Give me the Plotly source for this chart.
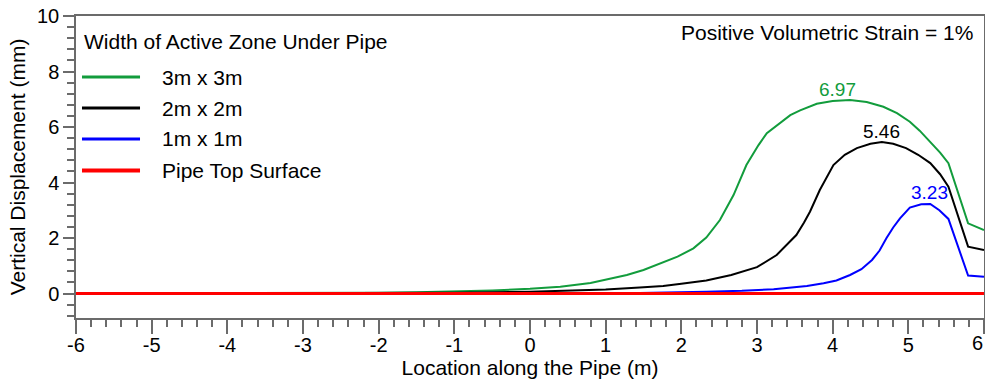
import plotly.graph_objects as go

# ---- data ----
x_green = [-6, -5, -4, -3, -2, -1.5, -1, -0.5, 0, 0.4, 0.8, 1.28, 1.5, 1.72, 1.95, 2.16, 2.33,
           2.51, 2.69, 2.86, 3.02, 3.13, 3.26, 3.44, 3.57, 3.79, 4.0, 4.23, 4.45, 4.67, 4.85,
           5.02, 5.15, 5.29, 5.42, 5.53, 5.79, 6.0]
y_green = [0.0, 0.002, 0.005, 0.012, 0.03, 0.045, 0.07, 0.11, 0.17, 0.25, 0.38, 0.67, 0.85,
           1.09, 1.33, 1.63, 2.02, 2.65, 3.55, 4.63, 5.35, 5.78, 6.05, 6.43, 6.6, 6.84, 6.94,
           6.97, 6.9, 6.73, 6.5, 6.19, 5.87, 5.47, 5.08, 4.70, 2.53, 2.29]

x_black = [-6, -4, -3, -2, -1, 0, 0.5, 1.0, 1.45, 1.76, 2.0, 2.33, 2.66, 3.0, 3.26, 3.44, 3.52,
           3.62, 3.70, 3.83, 3.92, 4.01, 4.16, 4.32, 4.5, 4.65, 4.8, 4.97, 5.13, 5.29, 5.42,
           5.53, 5.79, 6.0]
y_black = [0.0, 0.002, 0.005, 0.012, 0.03, 0.065, 0.1, 0.15, 0.22, 0.27, 0.35, 0.47, 0.67,
           0.95, 1.39, 1.87, 2.11, 2.55, 2.95, 3.73, 4.2, 4.63, 5.0, 5.24, 5.4, 5.46, 5.4, 5.24,
           5.0, 4.70, 4.3, 3.85, 1.69, 1.57]

x_blue = [-6, -2, 0, 1.0, 1.45, 2.33, 2.8, 3.22, 3.44, 3.66, 3.88, 4.05, 4.23, 4.38, 4.52, 4.62,
          4.71, 4.8, 4.89, 5.02, 5.17, 5.29, 5.41, 5.53, 5.79, 6.0]
y_blue = [0.0, 0.0, 0.005, 0.01, 0.02, 0.07, 0.1, 0.16, 0.22, 0.27, 0.37, 0.47, 0.67, 0.88,
          1.21, 1.55, 1.99, 2.38, 2.71, 3.10, 3.22, 3.23, 3.0, 2.69, 0.65, 0.61]

x_pipe = [-6, 6]
y_pipe = [0, 0]

series_names = ["3m x 3m", "2m x 2m", "1m x 1m", "Pipe Top Surface"]
legend_title = "Width of Active Zone Under Pipe"
peak_labels = ["6.97", "5.46", "3.23"]
peak_label_x = [4.07, 4.65, 5.28]
peak_y = [6.97, 5.46, 3.23]

x_tick_vals = [-6, -5, -4, -3, -2, -1, 0, 1, 2, 3, 4, 5, 6]
x_tick_text = ["-6", "-5", "-4", "-3", "-2", "-1", "0", "1", "2", "3", "4", "5", "6"]
y_tick_vals = [0, 2, 4, 6, 8, 10]
y_tick_text = ["0", "2", "4", "6", "8", "10"]

GREEN = "#129c3c"
BLACK = "#000000"
BLUE = "#0000ff"
RED = "#ff0000"
AXIS = "#6b6b6b"
FONT = "Arial, Liberation Sans, sans-serif"
colors = [GREEN, BLACK, BLUE, RED]
widths = [2, 2, 2, 3]

fig = go.Figure()
for xs, ys, nm, col, w in zip([x_green, x_black, x_blue, x_pipe],
                              [y_green, y_black, y_blue, y_pipe],
                              series_names, colors, widths):
    fig.add_trace(go.Scatter(x=xs, y=ys, mode="lines", name=nm, showlegend=False,
                             line=dict(color=col, width=w)))

# peak value labels
for lbl, px, py, col in zip(peak_labels, peak_label_x, peak_y, colors[:3]):
    fig.add_annotation(x=px, y=py, text=lbl, showarrow=False, yanchor="middle", yshift=11,
                       font=dict(family=FONT, size=19, color=col))

# legend (drawn in paper coordinates to match the reference's long line samples)
fig.add_annotation(xref="paper", yref="paper", x=0.0066, y=0.917, xanchor="left",
                   yanchor="middle", text=legend_title, showarrow=False,
                   font=dict(family=FONT, size=21, color="black"))
legend_rows = [0.798, 0.695, 0.593, 0.488]
for nm, col, w, ry in zip(series_names, colors, widths, legend_rows):
    fig.add_shape(type="line", xref="paper", yref="paper", x0=0.0066, x1=0.0705,
                  y0=ry, y1=ry, line=dict(color=col, width=w + 1))
    fig.add_annotation(xref="paper", yref="paper", x=0.0925, y=ry, xanchor="left",
                       yanchor="middle", text=nm, showarrow=False,
                       font=dict(family=FONT, size=21, color="black"))

fig.add_annotation(xref="paper", yref="paper", x=0.990, y=0.944, xanchor="right",
                   yanchor="middle", text="Positive Volumetric Strain = 1%", showarrow=False,
                   font=dict(family=FONT, size=21, color="black"))

# last x tick label sits on the window edge: draw it right-aligned so it stays fully visible
last_tick_text = x_tick_text[-1]
axis_tick_text = x_tick_text[:-1] + [""]
fig.add_annotation(xref="x", yref="paper", x=x_tick_vals[-1], y=-0.083, xanchor="right",
                   yanchor="middle", text=last_tick_text, showarrow=False, xshift=1,
                   font=dict(family=FONT, size=20, color="black"))

axis_common = dict(showline=True, linecolor=AXIS, linewidth=1.5, mirror=True,
                   ticks="outside", tickcolor=AXIS, showgrid=False, zeroline=False,
                   automargin=False,
                   tickfont=dict(family=FONT, size=20, color="black"))

fig.update_xaxes(range=[-6, 6.0001], tickmode="array", tickvals=x_tick_vals,
                 ticktext=axis_tick_text, ticklen=14, tickwidth=1.5, ticklabelstandoff=-6,
                 minor=dict(tickmode="linear", dtick=0.2, tick0=0, ticklen=7,
                            tickcolor=AXIS, ticks="outside"),
                 title=dict(text="Location along the Pipe (m)", standoff=6,
                            font=dict(family=FONT, size=21, color="black")),
                 **axis_common)
fig.update_yaxes(range=[-0.88, 10], tickmode="array", tickvals=y_tick_vals,
                 ticktext=y_tick_text, ticklen=11, tickwidth=1.5,
                 minor=dict(tickmode="linear", dtick=0.4, tick0=0, ticklen=7,
                            tickcolor=AXIS, ticks="outside"),
                 title=dict(text="Vertical Displacement (mm)", standoff=6,
                            font=dict(family=FONT, size=21, color="black")),
                 **axis_common)

fig.update_layout(
    width=985, height=385,
    margin=dict(l=76, r=1, t=16, b=67),
    plot_bgcolor="white", paper_bgcolor="white",
    showlegend=False,
)

fig.write_html("out.html")
